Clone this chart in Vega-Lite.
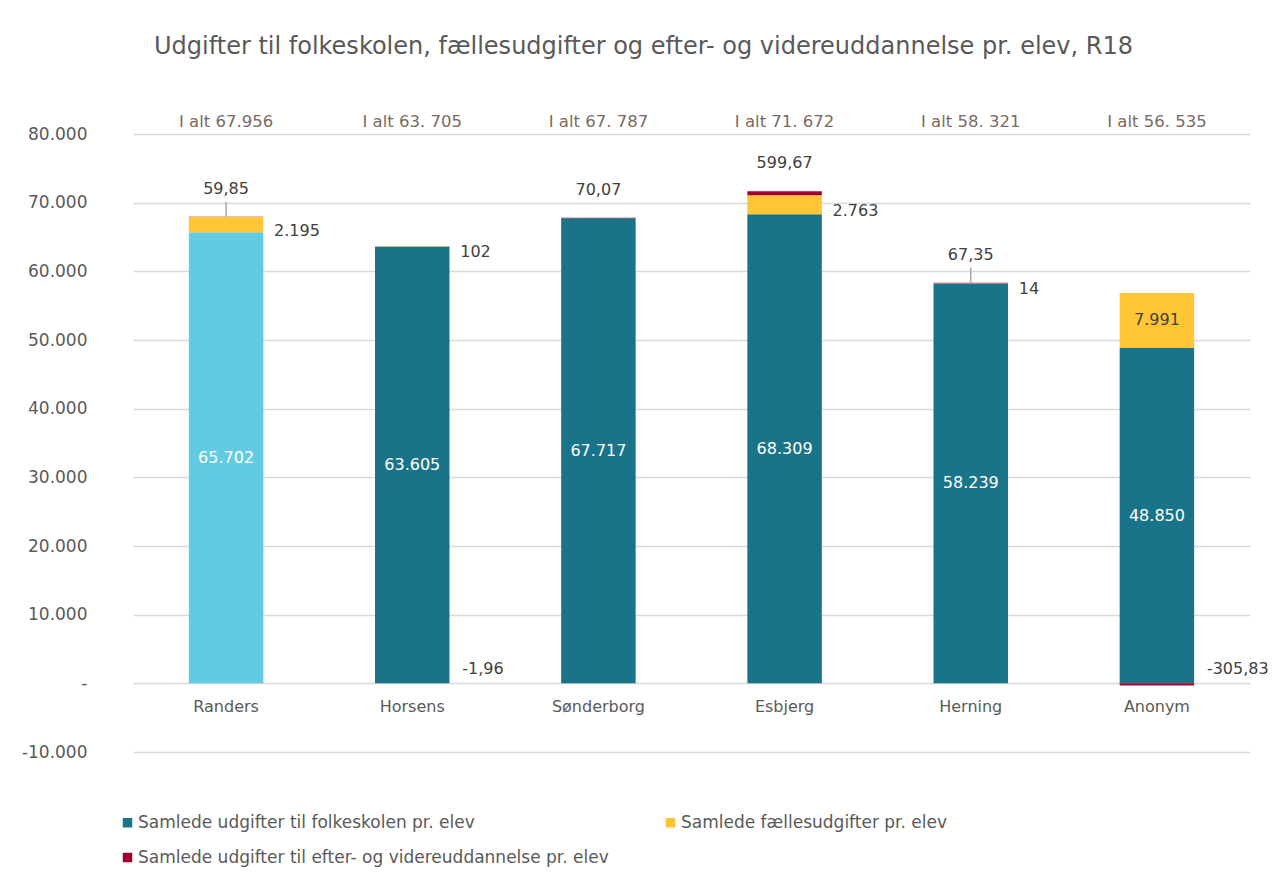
{
  "$schema": "https://vega.github.io/schema/vega-lite/v6.json",
  "autosize": "none",
  "width": 1117,
  "height": 618,
  "padding": {"left": 133, "top": 134, "right": 24, "bottom": 133},
  "background": "white",
  "title": {
    "text": "Udgifter til folkeskolen, fællesudgifter og efter- og videreuddannelse pr. elev, R18",
    "fontSize": 24,
    "font": "DejaVu Sans",
    "fontWeight": "normal",
    "color": "#595959",
    "anchor": "middle",
    "dx": -48,
    "offset": 55
  },
  "datasets": {
    "segments": [
      {"Kommune": "Randers", "serie": "Samlede udgifter til folkeskolen pr. elev", "value": 65702},
      {"Kommune": "Randers", "serie": "Samlede fællesudgifter pr. elev", "value": 2195},
      {"Kommune": "Randers", "serie": "Samlede udgifter til efter- og videreuddannelse pr. elev", "value": 59.85},
      {"Kommune": "Horsens", "serie": "Samlede udgifter til folkeskolen pr. elev", "value": 63605},
      {"Kommune": "Horsens", "serie": "Samlede fællesudgifter pr. elev", "value": 102},
      {"Kommune": "Horsens", "serie": "Samlede udgifter til efter- og videreuddannelse pr. elev", "value": -1.96},
      {"Kommune": "Sønderborg", "serie": "Samlede udgifter til folkeskolen pr. elev", "value": 67717},
      {"Kommune": "Sønderborg", "serie": "Samlede fællesudgifter pr. elev", "value": 0},
      {"Kommune": "Sønderborg", "serie": "Samlede udgifter til efter- og videreuddannelse pr. elev", "value": 70.07},
      {"Kommune": "Esbjerg", "serie": "Samlede udgifter til folkeskolen pr. elev", "value": 68309},
      {"Kommune": "Esbjerg", "serie": "Samlede fællesudgifter pr. elev", "value": 2763},
      {"Kommune": "Esbjerg", "serie": "Samlede udgifter til efter- og videreuddannelse pr. elev", "value": 599.67},
      {"Kommune": "Herning", "serie": "Samlede udgifter til folkeskolen pr. elev", "value": 58239},
      {"Kommune": "Herning", "serie": "Samlede fællesudgifter pr. elev", "value": 14},
      {"Kommune": "Herning", "serie": "Samlede udgifter til efter- og videreuddannelse pr. elev", "value": 67.35},
      {"Kommune": "Anonym", "serie": "Samlede udgifter til folkeskolen pr. elev", "value": 48850},
      {"Kommune": "Anonym", "serie": "Samlede fællesudgifter pr. elev", "value": 7991},
      {"Kommune": "Anonym", "serie": "Samlede udgifter til efter- og videreuddannelse pr. elev", "value": -305.83}
    ],
    "totals": [
      {"Kommune": "Randers", "label": "I alt 67.956"},
      {"Kommune": "Horsens", "label": "I alt 63. 705"},
      {"Kommune": "Sønderborg", "label": "I alt 67. 787"},
      {"Kommune": "Esbjerg", "label": "I alt 71. 672"},
      {"Kommune": "Herning", "label": "I alt 58. 321"},
      {"Kommune": "Anonym", "label": "I alt 56. 535"}
    ]
  },
  "layer": [
    {
      "data": {"name": "segments"},
      "transform": [
        {"calculate": "indexof(['Samlede udgifter til folkeskolen pr. elev','Samlede fællesudgifter pr. elev','Samlede udgifter til efter- og videreuddannelse pr. elev'], datum.serie)", "as": "ord"},
        {"stack": "value", "groupby": ["Kommune"], "sort": [{"field": "ord", "order": "ascending"}], "as": ["v0", "v1"]},
        {"calculate": "(datum.v0 + datum.v1) / 2", "as": "mid"}
      ],
      "layer": [
        {
          "mark": {"type": "bar"},
          "encoding": {
            "x": {"field": "Kommune", "type": "nominal", "sort": ["Randers", "Horsens", "Sønderborg", "Esbjerg", "Herning", "Anonym"],
              "scale": {"paddingInner": 0.6, "paddingOuter": 0.3},
              "axis": {"title": null, "domain": false, "ticks": false, "labelAngle": 0, "labelFontSize": 16, "labelColor": "#595959", "labelPadding": 15, "offset": -69, "labelFont": "DejaVu Sans"}},
            "y": {"field": "v1", "type": "quantitative",
              "scale": {"domain": [-10000, 80000], "nice": false},
              "axis": {"title": null, "values": [-10000, 0, 10000, 20000, 30000, 40000, 50000, 60000, 70000, 80000], "format": ",.0f", "labelExpr": "datum.value == 0 ? '-' : datum.label", "domain": false, "ticks": false, "labelPadding": 46, "labelFontSize": 17, "labelColor": "#595959", "labelFont": "DejaVu Sans", "gridColor": "#D9D9D9", "gridWidth": 1.5}},
            "y2": {"field": "v0"},
            "color": {
              "condition": {"test": "datum.Kommune == 'Randers' && datum.serie == 'Samlede udgifter til folkeskolen pr. elev'", "value": "#63CAE3"},
              "field": "serie", "type": "nominal",
              "scale": {"domain": ["Samlede udgifter til folkeskolen pr. elev", "Samlede fællesudgifter pr. elev", "Samlede udgifter til efter- og videreuddannelse pr. elev"], "range": ["#1A7489", "#FFC535", "#A0002F"]},
              "legend": {"title": null, "orient": "none", "legendX": -14, "legendY": 680, "columns": 2, "columnPadding": 53, "rowPadding": 17, "symbolType": "square", "symbolSize": 90, "labelFontSize": 17, "labelColor": "#595959", "labelFont": "DejaVu Sans", "labelLimit": 700, "labelOffset": 2, "symbolStrokeWidth": 0,
                "values": ["Samlede udgifter til folkeskolen pr. elev", "Samlede udgifter til efter- og videreuddannelse pr. elev", "Samlede fællesudgifter pr. elev"]}
            }
          }
        },
        {
          "transform": [{"filter": "datum.serie == 'Samlede udgifter til folkeskolen pr. elev' || (datum.Kommune == 'Anonym' && datum.serie == 'Samlede fællesudgifter pr. elev')"}],
          "mark": {"type": "text", "fontSize": 16, "font": "DejaVu Sans", "baseline": "middle"},
          "encoding": {
            "x": {"field": "Kommune", "type": "nominal", "sort": ["Randers", "Horsens", "Sønderborg", "Esbjerg", "Herning", "Anonym"]},
            "y": {"field": "mid", "type": "quantitative"},
            "text": {"field": "value", "type": "quantitative", "format": ",.0f"},
            "color": {"condition": {"test": "datum.serie == 'Samlede fællesudgifter pr. elev'", "value": "#404040"}, "value": "white"}
          }
        },
        {
          "transform": [{"filter": "datum.serie == 'Samlede fællesudgifter pr. elev' && datum.Kommune != 'Anonym' && datum.value != 0"}],
          "mark": {"type": "text", "fontSize": 16, "font": "DejaVu Sans", "baseline": "middle", "align": "left", "dx": 48, "dy": 6, "color": "#404040"},
          "encoding": {
            "x": {"field": "Kommune", "type": "nominal", "sort": ["Randers", "Horsens", "Sønderborg", "Esbjerg", "Herning", "Anonym"]},
            "y": {"field": "mid", "type": "quantitative"},
            "text": {"field": "value", "type": "quantitative", "format": ",.0f"}
          }
        },
        {
          "transform": [{"filter": "datum.serie == 'Samlede udgifter til efter- og videreuddannelse pr. elev' && datum.value > 0"}],
          "mark": {"type": "text", "fontSize": 16, "font": "DejaVu Sans", "baseline": "middle", "align": "center", "dy": -28, "color": "#404040"},
          "encoding": {
            "x": {"field": "Kommune", "type": "nominal", "sort": ["Randers", "Horsens", "Sønderborg", "Esbjerg", "Herning", "Anonym"]},
            "y": {"field": "v1", "type": "quantitative"},
            "text": {"field": "value", "type": "quantitative", "format": ",.2f"}
          }
        },
        {
          "transform": [{"filter": "datum.serie == 'Samlede udgifter til efter- og videreuddannelse pr. elev' && datum.value < 0"}],
          "mark": {"type": "text", "fontSize": 16, "font": "DejaVu Sans", "baseline": "middle", "align": "left", "dx": 50, "dy": -14, "color": "#404040"},
          "encoding": {
            "x": {"field": "Kommune", "type": "nominal", "sort": ["Randers", "Horsens", "Sønderborg", "Esbjerg", "Herning", "Anonym"]},
            "y": {"field": "v0", "type": "quantitative"},
            "text": {"field": "value", "type": "quantitative", "format": ",.2f"}
          }
        },
        {
          "transform": [{"filter": "datum.serie == 'Samlede udgifter til efter- og videreuddannelse pr. elev' && (datum.Kommune == 'Randers' || datum.Kommune == 'Herning')"}],
          "mark": {"type": "rule", "color": "#A6A6A6", "strokeWidth": 1.5, "y2Offset": -15},
          "encoding": {
            "x": {"field": "Kommune", "type": "nominal", "sort": ["Randers", "Horsens", "Sønderborg", "Esbjerg", "Herning", "Anonym"]},
            "y": {"field": "v1", "type": "quantitative"},
            "y2": {"field": "v1"}
          }
        }
      ]
    },
    {
      "data": {"name": "totals"},
      "mark": {"type": "text", "fontSize": 16.5, "font": "DejaVu Sans", "baseline": "bottom", "align": "center", "dy": -4, "color": "#7B6A5F"},
      "encoding": {
        "x": {"field": "Kommune", "type": "nominal", "sort": ["Randers", "Horsens", "Sønderborg", "Esbjerg", "Herning", "Anonym"]},
        "y": {"datum": 80000},
        "text": {"field": "label"}
      }
    }
  ],
  "config": {
    "locale": {"number": {"decimal": ",", "thousands": ".", "grouping": [3], "currency": ["", " kr."], "minus": "-"}},
    "view": {"stroke": null},
    "font": "DejaVu Sans"
  }
}
